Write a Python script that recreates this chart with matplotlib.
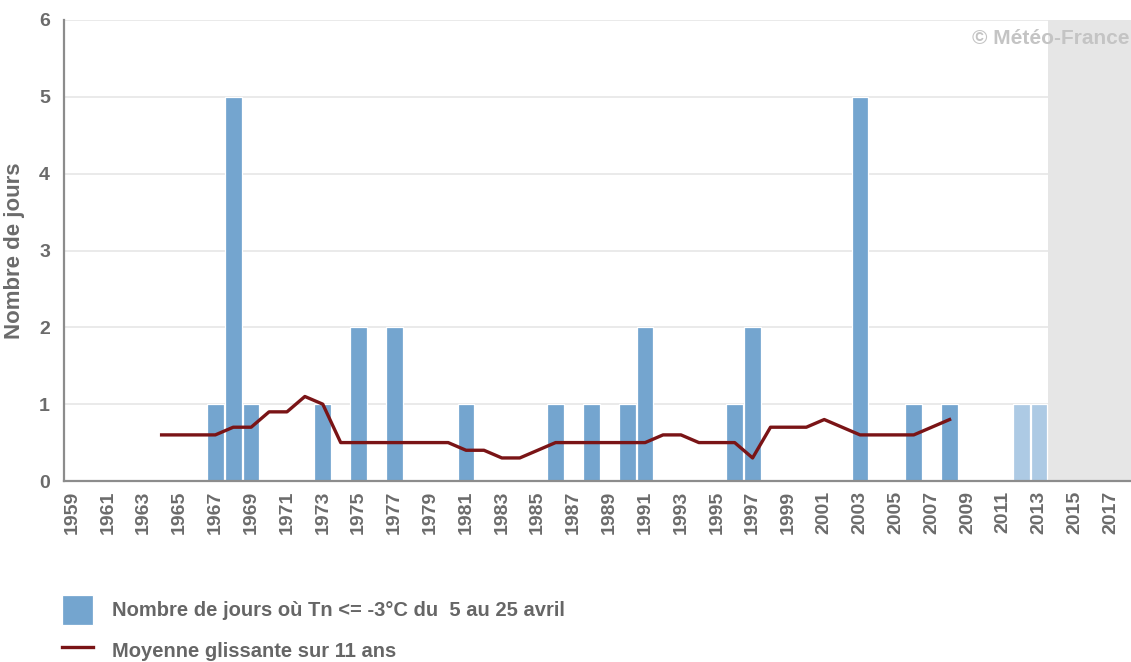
import numpy as np
import matplotlib
matplotlib.use("Agg")
import matplotlib.pyplot as plt

# données
annees = list(range(1959, 2014))
jours = [0, 0, 0, 0, 0, 0, 0, 0, 1, 5,   # 1959-1968
         1, 0, 0, 0, 1, 0, 2, 0, 2, 0,   # 1969-1978
         0, 0, 1, 0, 0, 0, 0, 1, 0, 1,   # 1979-1988
         0, 1, 2, 0, 0, 0, 0, 1, 2, 0,   # 1989-1998
         0, 0, 0, 0, 5, 0, 0, 1, 0, 1,   # 1999-2008
         0, 0, 0, 1, 1]                  # 2009-2013
annees_provisoires = [2012, 2013]  # barres plus claires

annees_moy = list(range(1964, 2009))
moyenne = [0.6, 0.6, 0.6, 0.6, 0.7, 0.7, 0.9, 0.9, 1.1, 1.0,   # 1964-1973
           0.5, 0.5, 0.5, 0.5, 0.5, 0.5, 0.5, 0.4, 0.4, 0.3,   # 1974-1983
           0.3, 0.4, 0.5, 0.5, 0.5, 0.5, 0.5, 0.5, 0.6, 0.6,   # 1984-1993
           0.5, 0.5, 0.5, 0.3, 0.7, 0.7, 0.7, 0.8, 0.7, 0.6,   # 1994-2003
           0.6, 0.6, 0.6, 0.7, 0.8]                            # 2004-2008

xticks = list(range(1959, 2018, 2))
yticks = [0, 1, 2, 3, 4, 5, 6]

plt.rcParams['font.family'] = ['Liberation Sans', 'DejaVu Sans']

fig = plt.figure(figsize=(11.31, 6.62), dpi=100)
ax = fig.add_axes([64 / 1131, 181 / 662, 1 - 64 / 1131, 461 / 662])

bleu = '#74a5cf'
bleu_clair = '#adcae4'
couleurs = [bleu_clair if a in annees_provisoires else bleu for a in annees]

ax.axvspan(2013.5, 2019, color='#e6e6e6', zorder=0.8, lw=0)
barres = ax.bar(annees, jours, width=0.93, color=couleurs, edgecolor='white',
                linewidth=0.9, zorder=2)
ligne, = ax.plot(annees_moy, moyenne, color='#7a1416', lw=2.4, zorder=3,
                 solid_joinstyle='round')

ax.set_xlim(1958.55, 2018.13)
ax.set_ylim(0, 6)
ax.set_xticks(xticks)
ax.set_xticklabels([str(a) for a in xticks], rotation=90)
ax.set_yticks(yticks)
ax.tick_params(length=0, colors='#6b6b6b', labelsize=14)
ax.tick_params(axis='y', pad=10)
ax.tick_params(axis='x', pad=7)
for lab in ax.get_xticklabels() + ax.get_yticklabels():
    lab.set_fontweight('bold')

ax.grid(axis='y', color='#e6e6e6', lw=1.2)
ax.set_axisbelow(True)
for s in ['top', 'right']:
    ax.spines[s].set_visible(False)
for s in ['left', 'bottom']:
    ax.spines[s].set_color('#8c8c8c')
    ax.spines[s].set_linewidth(1.6)
    ax.spines[s].set_zorder(4)

fig.text(15 / 1131, 1 - 251 / 662, "Nombre de jours", rotation=90,
         ha='center', va='center', fontsize=16, fontweight='bold', color='#6b6b6b')

fig.text(1129 / 1131, 1 - 38 / 662, "© Météo-France", ha='right', va='center',
         fontsize=15, fontweight='bold', color='#c4c4c4')

fig.legend([barres.patches[8], ligne],
           ["Nombre de jours où Tn <= -3°C du  5 au 25 avril", "Moyenne glissante sur 11 ans"],
           loc='upper left', bbox_to_anchor=(62 / 1131, 1 - 595 / 662),
           frameon=False, prop={'size': 14.5, 'weight': 'bold'}, labelcolor='#666666',
           handlelength=1.55, handleheight=1.9, handletextpad=0.95,
           labelspacing=0.55, borderpad=0, borderaxespad=0)

fig.savefig("out.png", dpi=100)
